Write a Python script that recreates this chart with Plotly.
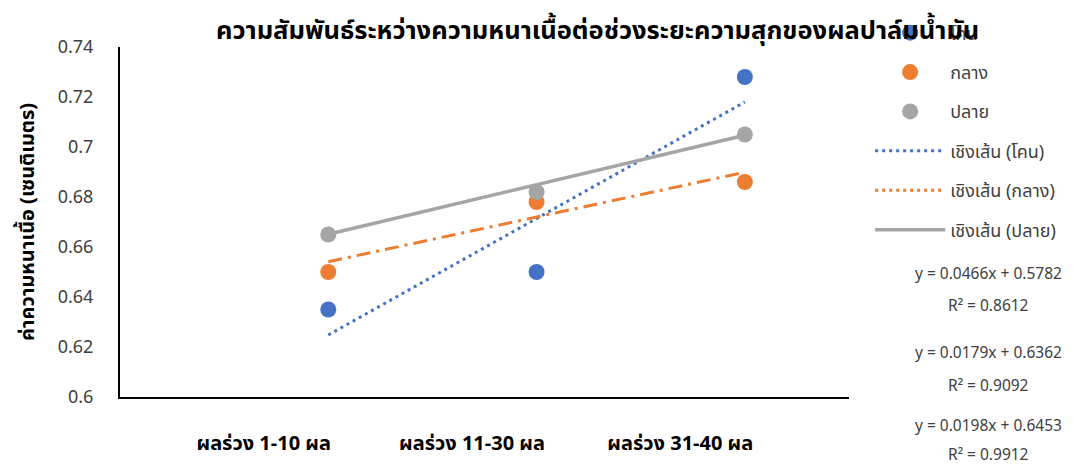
import plotly.graph_objects as go

# Ripeness stages (loose fruits) and pulp thickness (cm) by fruit position
categories = ["ผลร่วง 1-10 ผล", "ผลร่วง 11-30 ผล", "ผลร่วง 31-40 ผล"]
stage_x = [1, 2, 3]
series_names = ["โคน", "กลาง", "ปลาย"]
base_vals = [0.635, 0.650, 0.728]
middle_vals = [0.650, 0.678, 0.686]
tip_vals = [0.665, 0.682, 0.705]

# Linear trend coefficients and fit quality
slopes = [0.0466, 0.0179, 0.0198]
intercepts = [0.5782, 0.6362, 0.6453]
r_squared = [0.8612, 0.9092, 0.9912]

y_ticks = [0.6, 0.62, 0.64, 0.66, 0.68, 0.7, 0.72, 0.74]
y_tick_text = ["0.6", "0.62", "0.64", "0.66", "0.68", "0.7", "0.72", "0.74"]

colors = ["#4472C4", "#ED7D31", "#A5A5A5"]
trend_dash = ["3px,4px", "14px,6px,3px,6px", "solid"]
legend_dash = ["3px,4px", "3px,4px", "solid"]
trend_width = [3, 3, 3.5]

FONT = "Tahoma, 'Leelawadee UI', 'Noto Sans Thai', 'Noto Sans', sans-serif"

fig = go.Figure()

all_vals = [base_vals, middle_vals, tip_vals]
for i, (name, vals) in enumerate(zip(series_names, all_vals)):
    fig.add_trace(go.Scatter(
        x=stage_x, y=vals, mode="markers", name=name,
        marker=dict(color=colors[i], size=16),
        legendgroup=f"g{i}", legendrank=i + 1,
    ))

for i, name in enumerate(series_names):
    trend_y = [slopes[i] * x + intercepts[i] for x in stage_x]
    fig.add_trace(go.Scatter(
        x=stage_x, y=trend_y, mode="lines", showlegend=False,
        line=dict(color=colors[i], width=trend_width[i], dash=trend_dash[i]),
        hoverinfo="skip",
    ))
    # legend entry for the trend line
    fig.add_trace(go.Scatter(
        x=[None], y=[None], mode="lines", name=f"เชิงเส้น ({name})",
        line=dict(color=colors[i], width=trend_width[i], dash=legend_dash[i]),
        legendgroup=f"t{i}", legendrank=4 + i,
    ))

# Trend equations beside the chart (paper-relative rows)
eq_rows = [0.351, 0.123, -0.083]
r2_rows = [0.260, 0.031, -0.168]
for i in range(3):
    fig.add_annotation(
        xref="paper", yref="paper", x=1.191, y=eq_rows[i],
        text=f"y = {slopes[i]:.4f}x + {intercepts[i]:.4f}",
        showarrow=False, xanchor="center", yanchor="middle",
        font=dict(size=15.5, color="#404040", family=FONT),
    )
    fig.add_annotation(
        xref="paper", yref="paper", x=1.191, y=r2_rows[i],
        text=f"R² = {r_squared[i]:.4f}",
        showarrow=False, xanchor="center", yanchor="middle",
        font=dict(size=15.5, color="#404040", family=FONT),
    )

fig.update_layout(
    width=1073, height=466,
    margin=dict(l=120, r=222, t=47, b=69),
    paper_bgcolor="white", plot_bgcolor="white",
    font=dict(family=FONT, color="#404040"),
    title=dict(
        text="<b>ความสัมพันธ์ระหว่างความหนาเนื้อต่อช่วงระยะความสุกของผลปาล์มน้ำมัน</b>",
        x=0.557, xref="container", xanchor="center",
        y=1 - 30 / 466, yref="container", yanchor="middle",
        font=dict(size=25.5, color="#000000", family=FONT),
    ),
    showlegend=True,
    legend=dict(
        x=1.029, xanchor="left", y=1.093, yanchor="top",
        itemwidth=70, tracegroupgap=13, traceorder="grouped",
        maxheight=460,
        font=dict(size=18, color="#404040", family=FONT),
        bgcolor="rgba(0,0,0,0)",
    ),
    xaxis=dict(
        range=[0, 3.5], showgrid=False, zeroline=False, automargin=False,
        showline=True, linecolor="#000000", linewidth=2,
        tickvals=[x - 0.31 for x in stage_x], ticktext=[f"<b>{c}</b>" for c in categories],
        ticks="", ticklabelstandoff=27,
        tickfont=dict(size=20, color="#000000", family=FONT),
    ),
    yaxis=dict(
        range=[0.6, 0.74], showgrid=False, zeroline=False, automargin=False,
        showline=True, linecolor="#000000", linewidth=2,
        tickvals=y_ticks, ticktext=y_tick_text, ticks="",
        ticklabelstandoff=21,
        tickfont=dict(size=18, color="#404040", family=FONT),
        title=dict(text="<b>ค่าความหนาเนื้อ (เซนติเมตร)</b>", standoff=18,
                   font=dict(size=20, color="#000000", family=FONT)),
    ),
)

fig.write_html("out.html")
